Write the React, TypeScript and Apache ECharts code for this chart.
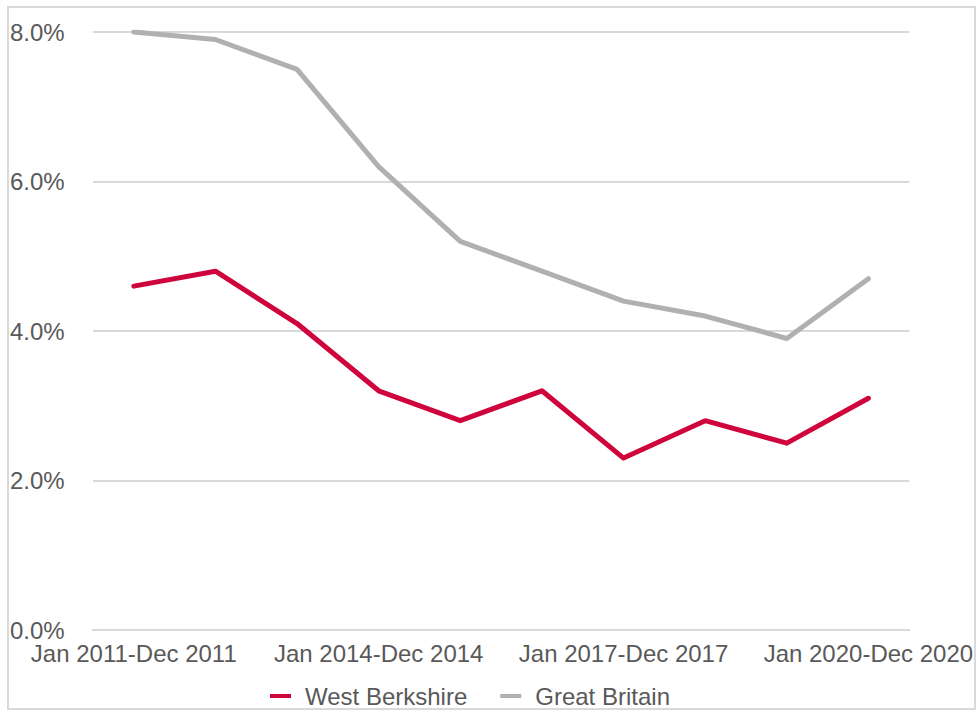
import React, { useEffect, useRef } from "react";
import * as echarts from "echarts";

const categories = [
  "Jan 2011-Dec 2011",
  "Jan 2012-Dec 2012",
  "Jan 2013-Dec 2013",
  "Jan 2014-Dec 2014",
  "Jan 2015-Dec 2015",
  "Jan 2016-Dec 2016",
  "Jan 2017-Dec 2017",
  "Jan 2018-Dec 2018",
  "Jan 2019-Dec 2019",
  "Jan 2020-Dec 2020",
];
const westBerkshire = [4.6, 4.8, 4.1, 3.2, 2.8, 3.2, 2.3, 2.8, 2.5, 3.1];
const greatBritain = [8.0, 7.9, 7.5, 6.2, 5.2, 4.8, 4.4, 4.2, 3.9, 4.7];

const FONT = "'Liberation Sans', Arial, sans-serif";
const TEXT = "#595959";
const FS = 24;

export default function App() {
  const ref = useRef<HTMLDivElement>(null);
  useEffect(() => {
    if (!ref.current) return;
    const chart = echarts.init(ref.current, null, { renderer: "svg" });
    chart.setOption({
      animation: false,
      backgroundColor: "#ffffff",
      textStyle: { fontFamily: FONT },
      graphic: [
        {
          type: "rect",
          shape: { x: 8, y: 7, width: 967, height: 702 },
          style: { fill: "none", stroke: "#d9d9d9", lineWidth: 2 },
          silent: true,
        },
      ],
      grid: { left: 93, right: 64, top: 32, bottom: 81, containLabel: false },
      legend: {
        left: 265,
        top: 684,
        padding: [0, 5, 0, 5],
        itemWidth: 21,
        itemHeight: 4,
        itemGap: 33,
        icon: "rect",
        textStyle: { fontSize: FS, color: TEXT, fontFamily: FONT, padding: [0, 0, 0, 9] },
        data: ["West Berkshire", "Great Britain"],
      },
      xAxis: {
        type: "category",
        data: categories,
        boundaryGap: true,
        axisLine: { show: true, lineStyle: { color: "#d9d9d9", width: 2 } },
        axisTick: { show: false },
        axisLabel: {
          interval: 2,
          fontSize: FS,
          color: TEXT,
          fontFamily: FONT,
          margin: 11,
        },
      },
      yAxis: {
        type: "value",
        min: 0,
        max: 8,
        interval: 2,
        axisLine: { show: false },
        axisTick: { show: false },
        splitLine: { lineStyle: { color: "#d9d9d9", width: 2 } },
        axisLabel: {
          align: "left",
          margin: 83,
          fontSize: FS,
          color: TEXT,
          fontFamily: FONT,
          formatter: (v: number) => v.toFixed(1) + "%",
        },
      },
      series: [
        {
          name: "West Berkshire",
          type: "line",
          data: westBerkshire,
          showSymbol: false,
          symbol: "none",
          color: "#d0043c",
          lineStyle: { width: 5, color: "#d0043c", cap: "round", join: "round" },
        },
        {
          name: "Great Britain",
          type: "line",
          data: greatBritain,
          showSymbol: false,
          symbol: "none",
          color: "#b0b0b0",
          lineStyle: { width: 5, color: "#b0b0b0", cap: "round", join: "round" },
        },
      ],
    });
    return () => chart.dispose();
  }, []);
  return (
    <div
      ref={ref}
      style={{ position: "absolute", left: 0, top: 0, width: 976, height: 711 }}
    />
  );
}
